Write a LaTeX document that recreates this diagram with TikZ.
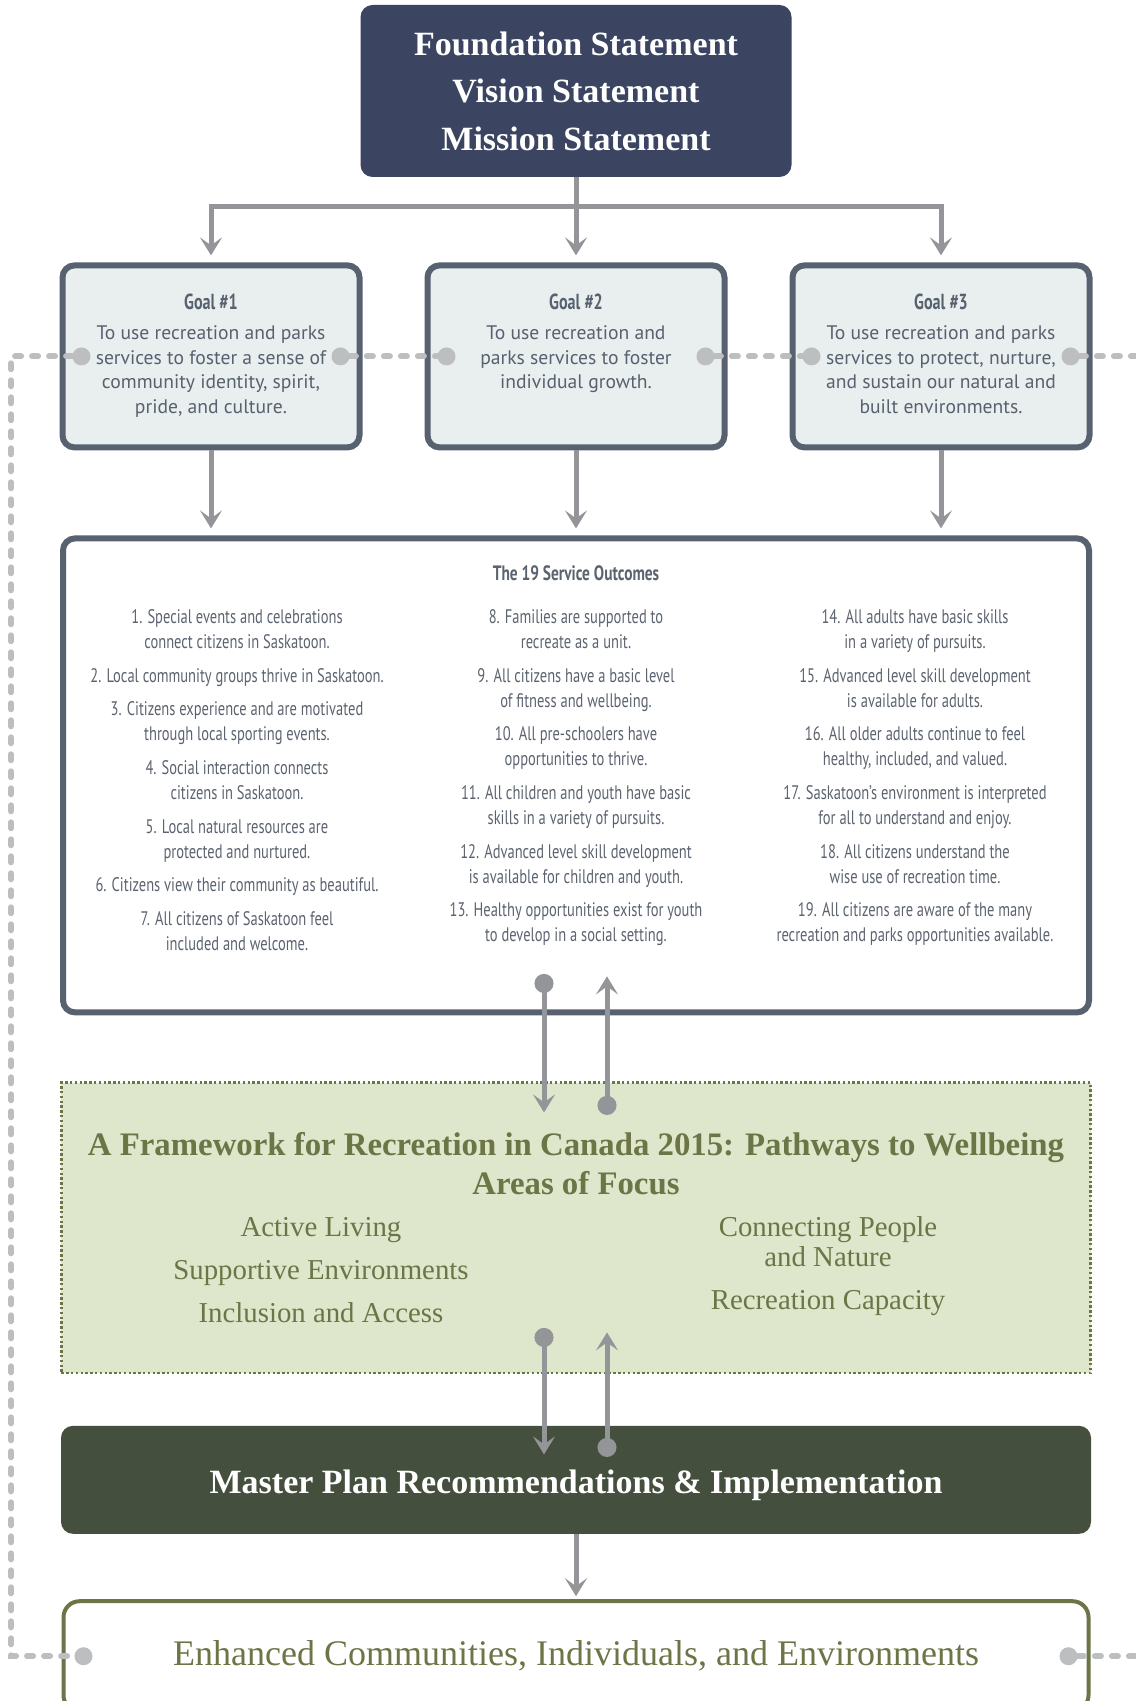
\documentclass[tikz,border=0pt]{standalone}
\usepackage{fontspec}
\setmainfont{Liberation Serif}
\newfontfamily\goalfont{PT Sans}
\newfontfamily\outfont[FakeStretch=0.74]{PT Sans}
\newcommand{\goalhead}{\outfont\bfseries\fontsize{10.9}{12.3}\selectfont}
\usetikzlibrary{arrows.meta,positioning}
\definecolor{navy}{HTML}{3B4460}
\definecolor{slate}{HTML}{57616F}
\definecolor{goalfill}{HTML}{E9EEEE}
\definecolor{outtext}{HTML}{5B636F}
\definecolor{olive}{HTML}{6B7546}
\definecolor{sage}{HTML}{DEE6CC}
\definecolor{forest}{HTML}{454F3E}
\definecolor{arrowgray}{HTML}{939598}
\definecolor{loopgray}{HTML}{BDBEC0}

\begin{document}
\begin{tikzpicture}[
    x=0.5pt, y=-0.5pt,
    navybox/.style={fill=navy, rounded corners=6pt, minimum width=215.5pt,
                    minimum height=86pt, text=white, align=center,
                    font=\fontsize{17}{23.75}\selectfont\bfseries},
    goalbox/.style={draw=slate, line width=3pt, fill=goalfill, rounded corners=6pt,
                    minimum width=148.5pt, minimum height=91pt},
    goaltext/.style={align=center, text=slate, inner sep=0pt,
                     font=\goalfont\fontsize{9.8}{12.3}\selectfont},
    listbox/.style={draw=slate, line width=3pt, rounded corners=6pt,
                    minimum width=513pt, minimum height=237pt},
    listcol/.style={align=center, text=outtext, inner sep=0pt, anchor=north,
                    font=\outfont\fontsize{9.8}{12.5}\selectfont},
    framebox/.style={draw=olive, line width=1.4pt, dash pattern=on 1.2pt off 1.2pt,
                     fill=sage, minimum width=514.6pt, minimum height=145.1pt},
    focustext/.style={align=center, text=olive, inner sep=0pt, anchor=north,
                      font=\fontsize{14.4}{21.5}\selectfont},
    planbox/.style={fill=forest, rounded corners=6pt, minimum width=515pt,
                    minimum height=54pt, text=white, text height=17pt,
                    font=\fontsize{17}{20}\selectfont\bfseries},
    endbox/.style={draw=olive, line width=2pt, rounded corners=8pt,
                   minimum width=512.5pt, minimum height=55pt, text=olive,
                   font=\fontsize{18}{22}\selectfont},
    arr/.style={draw=arrowgray, line width=2.5pt, -{Stealth[length=9pt, width=11pt, inset=4pt]}},
    link/.style={draw=arrowgray, line width=2.5pt,
                 arrows={Circle[length=9.5pt]-Stealth[length=9pt, width=11pt, inset=4pt]}},
    loopdot/.style={circle, fill=loopgray, minimum size=9pt, inner sep=0pt},
    loopline/.style={draw=loopgray, line width=3pt, line cap=round,
                     dash pattern=on 3pt off 5.5pt}
  ]
  \useasboundingbox (0,0) rectangle (1135,1701);

  % Top: statements
  \node[navybox] (found) at (576,91) {Foundation Statement\\Vision Statement\\Mission Statement};

  % Goals
  \node[goalbox, below=42.5pt of found] (g2) {};
  \node[goalbox, left=31pt of g2] (g1) {};
  \node[goalbox, right=31pt of g2] (g3) {};
  \node[goaltext, below=15.5pt of g1.north] (g1t) {{\goalhead Goal \#1}\\[2.9pt]
    To use recreation and parks\\services to foster a sense of\\community identity, spirit,\\pride, and culture.};
  \node[goaltext, below=15.5pt of g2.north] (g2t) {{\goalhead Goal \#2}\\[2.9pt]
    To use recreation and\\parks services to foster\\individual growth.};
  \node[goaltext, below=15.5pt of g3.north] (g3t) {{\goalhead Goal \#3}\\[2.9pt]
    To use recreation and parks\\services to protect, nurture,\\and sustain our natural and\\built environments.};

  % Service outcomes
  \node[listbox, below=42.5pt of g2] (outc) {};
  \node[below=15pt of outc.north, inner sep=0pt, text=outtext,
        font=\outfont\bfseries\fontsize{10.4}{12}\selectfont] (outt) {The 19 Service Outcomes};
  \node[listcol] (col1) at ([xshift=-169.5pt, yshift=-37pt]outc.north)
    {1. Special events and celebrations\\connect citizens in Saskatoon.\\[4.3pt]
     2. Local community groups thrive in Saskatoon.\\[4.3pt]
     3. Citizens experience and are motivated\\through local sporting events.\\[4.3pt]
     4. Social interaction connects\\citizens in Saskatoon.\\[4.3pt]
     5. Local natural resources are\\protected and nurtured.\\[4.3pt]
     6. Citizens view their community as beautiful.\\[4.3pt]
     7. All citizens of Saskatoon feel\\included and welcome.};
  \node[listcol] (col2) at ([yshift=-37pt]outc.north)
    {8. Families are supported to\\recreate as a unit.\\[4.3pt]
     9. All citizens have a basic level\\of fitness and wellbeing.\\[4.3pt]
     10. All pre-schoolers have\\opportunities to thrive.\\[4.3pt]
     11. All children and youth have basic\\skills in a variety of pursuits.\\[4.3pt]
     12. Advanced level skill development\\is available for children and youth.\\[4.3pt]
     13. Healthy opportunities exist for youth\\to develop in a social setting.};
  \node[listcol] (col3) at ([xshift=169.5pt, yshift=-37pt]outc.north)
    {14. All adults have basic skills\\in a variety of pursuits.\\[4.3pt]
     15. Advanced level skill development\\is available for adults.\\[4.3pt]
     16. All older adults continue to feel\\healthy, included, and valued.\\[4.3pt]
     17. Saskatoon’s environment is interpreted\\for all to understand and enjoy.\\[4.3pt]
     18. All citizens understand the\\wise use of recreation time.\\[4.3pt]
     19. All citizens are aware of the many\\recreation and parks opportunities available.};

  % Framework
  \node[framebox, below=33pt of outc] (frame) {};
  \node[below=25.5pt of frame.north, inner sep=0pt, align=center, text=olive,
        font=\bfseries\fontsize{16.4}{19.5}\selectfont] (framet)
    {A Framework for Recreation in Canada 2015: Pathways to Wellbeing\\Areas of Focus};
  \node[focustext] (focl) at ([xshift=-127.5pt, yshift=-68pt]frame.north)
    {Active Living\\Supportive Environments\\Inclusion and Access};
  \node[focustext, font=\fontsize{14.4}{15}\selectfont] (focr) at ([xshift=126pt, yshift=-67.5pt]frame.north)
    {Connecting People\\and Nature\\[6.5pt]Recreation Capacity};

  % Plan and result
  \node[planbox, below=25.5pt of frame] (plan) {Master Plan Recommendations \& Implementation};
  \node[endbox, below=32.5pt of plan] (endc) {Enhanced Communities, Individuals, and Environments};

  % Arrows
  \coordinate (bus) at ([yshift=-14.5pt]found.south);
  \draw[arr, shorten >=3.5pt] (found) -- (g2);
  \draw[arr, shorten >=3.5pt] (bus) -| (g1);
  \draw[arr, shorten >=3.5pt] (bus) -| (g3);
  \foreach \g in {g1,g2,g3}
    \draw[arr, shorten >=3.5pt] (\g) -- (\g |- outc.north);

  \coordinate (l1a) at ([xshift=-16pt, yshift=20.75pt]outc.south);
  \coordinate (l1b) at ([xshift=-16pt, yshift=-15.5pt]frame.north);
  \coordinate (l2a) at ([xshift=15.5pt, yshift=-16.75pt]frame.north);
  \coordinate (l2b) at ([xshift=15.5pt, yshift=19.5pt]outc.south);
  \coordinate (l3a) at ([xshift=-16pt, yshift=23.25pt]frame.south);
  \coordinate (l3b) at ([xshift=-16pt, yshift=-14.5pt]plan.north);
  \coordinate (l4a) at ([xshift=15.5pt, yshift=-15.75pt]plan.north);
  \coordinate (l4b) at ([xshift=15.5pt, yshift=21pt]frame.south);
  \draw[link] (l1a) -- (l1b);
  \draw[link] (l2a) -- (l2b);
  \draw[link] (l3a) -- (l3b);
  \draw[link] (l4a) -- (l4b);
  \draw[arr, shorten >=1.5pt] (plan) -- (endc);

  % Feedback loop
  \node[loopdot] (d1a) at ([xshift=11pt]g1.west) {};
  \node[loopdot] (d1b) at ([xshift=-11pt]g1.east) {};
  \node[loopdot] (d2a) at ([xshift=11pt]g2.west) {};
  \node[loopdot] (d2b) at ([xshift=-11pt]g2.east) {};
  \node[loopdot] (d3a) at ([xshift=11pt]g3.west) {};
  \node[loopdot] (d3b) at ([xshift=-11pt]g3.east) {};
  \node[loopdot] (d4a) at ([xshift=11pt]endc.west) {};
  \node[loopdot] (d4b) at ([xshift=-11pt]endc.east) {};
  \coordinate (lane) at (11,0);
  \coordinate (edge) at (1150,0);
  \draw[loopline] (d1a) -- (d1a -| lane) |- (d4a);
  \draw[loopline] (d1b) -- (d2a);
  \draw[loopline] (d2b) -- (d3a);
  \draw[loopline] (d3b) -- (d3b -| edge);
  \draw[loopline] (d4b) -- (d4b -| edge);
\end{tikzpicture}
\end{document}
